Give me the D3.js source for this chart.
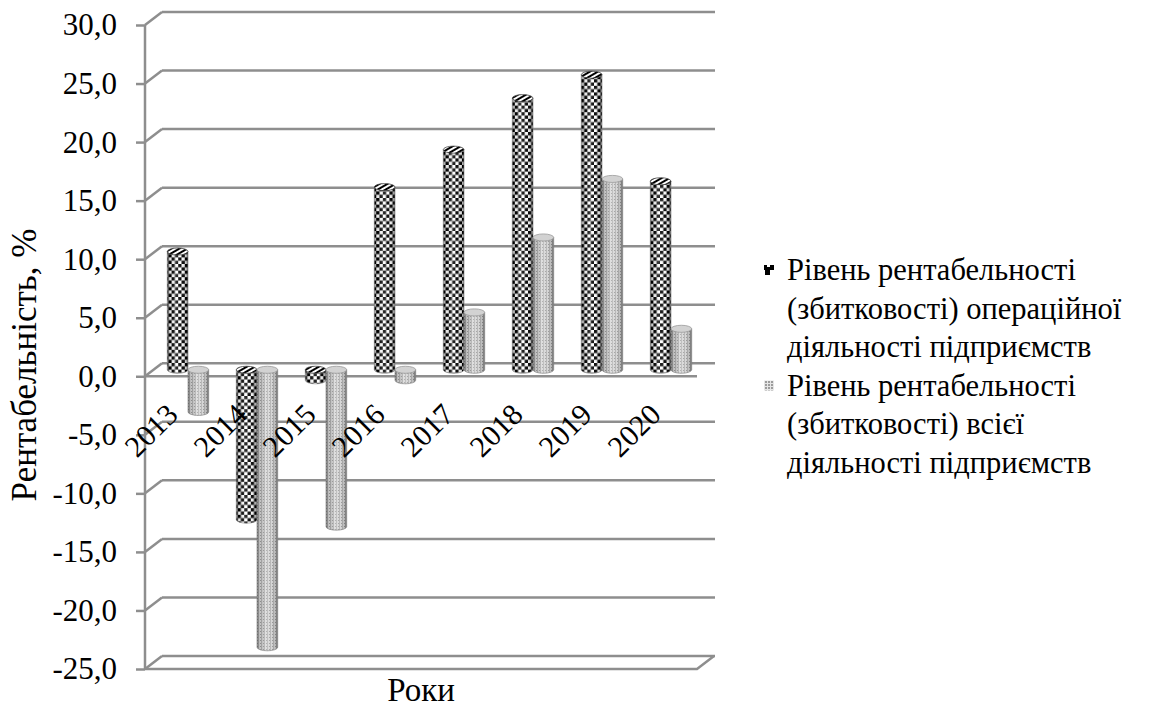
<!DOCTYPE html>
<html>
<head>
<meta charset="utf-8">
<script src="https://cdn.jsdelivr.net/npm/d3@7"></script>
<style>
  html, body { margin: 0; padding: 0; background: #fff; }
</style>
</head>
<body>
<svg id="chart" width="1149" height="707"></svg>
<script>
// Profitability of enterprises by year, %
const years = ["2013", "2014", "2015", "2016", "2017", "2018", "2019", "2020"];
const operating = [10.1, -12.8, -0.9, 15.6, 18.8, 23.2, 25.2, 16.1];
const total = [-3.6, -23.7, -13.4, -0.9, 4.9, 11.3, 16.3, 3.5];
const yTickValues = [-25, -20, -15, -10, -5, 0, 5, 10, 15, 20, 25, 30];
const seriesNames = [
  ["Рівень рентабельності", "(збитковості) операційної", "діяльності підприємств"],
  ["Рівень рентабельності", "(збитковості) всієї", "діяльності підприємств"]
];
const yTitle = "Рентабельність, %";
const xTitle = "Роки";

const SERIF = '"Liberation Serif", "Times New Roman", serif';

const svg = d3.select("#chart");
const defs = svg.append("defs");

// 3D box geometry: front plane and depth offset of the back wall
const DX = 17, DY = -13;
const BAR_F = 0.5;              // bars sit halfway into the depth
const BX = DX * BAR_F, BY = DY * BAR_F;
const GRID = "#8e8e8e";

const y = d3.scaleLinear().domain([-25, 30]).range([669, 25]);
const x = d3.scaleBand().domain(years).range([145, 697]).paddingInner(0.4).paddingOuter(0.2);
const xs = d3.scaleBand().domain(["operating", "total"]).range([0, x.bandwidth()]);

const locale = d3.formatLocale({ decimal: ",", thousands: " ", grouping: [3], currency: ["", ""], minus: "-" });
const fmt = locale.format(".1f");

// ---- fill patterns ----
const checker = defs.append("pattern").attr("id", "checker")
  .attr("patternUnits", "userSpaceOnUse").attr("width", 6.6).attr("height", 6.6);
checker.append("rect").attr("width", 6.6).attr("height", 6.6).attr("fill", "#fff");
checker.append("rect").attr("width", 3.3).attr("height", 3.3).attr("fill", "#000");
checker.append("rect").attr("x", 3.3).attr("y", 3.3).attr("width", 3.3).attr("height", 3.3).attr("fill", "#000");

const stripes = defs.append("pattern").attr("id", "stripes")
  .attr("patternUnits", "userSpaceOnUse").attr("width", 4).attr("height", 4)
  .attr("patternTransform", "rotate(-30)");
stripes.append("rect").attr("width", 4).attr("height", 4).attr("fill", "#fff");
stripes.append("rect").attr("width", 4).attr("height", 2).attr("fill", "#000");

const dots = defs.append("pattern").attr("id", "dots")
  .attr("patternUnits", "userSpaceOnUse").attr("width", 3).attr("height", 3);
dots.append("rect").attr("width", 3).attr("height", 3).attr("fill", "#d2d2d2");
dots.append("rect").attr("width", 1).attr("height", 3).attr("fill", "#adadad");
dots.append("rect").attr("x", 2).attr("y", 1).attr("width", 1).attr("height", 1).attr("fill", "#969696");

const legendChecker = defs.append("pattern").attr("id", "legendChecker")
  .attr("patternUnits", "userSpaceOnUse").attr("width", 10).attr("height", 10);
legendChecker.append("rect").attr("width", 10).attr("height", 10).attr("fill", "#fff");
legendChecker.append("rect").attr("x", 5).attr("width", 5).attr("height", 5).attr("fill", "#000");
legendChecker.append("rect").attr("y", 5).attr("width", 10).attr("height", 5).attr("fill", "#000");
legendChecker.append("rect").attr("x", 7).attr("y", 5).attr("width", 3).attr("height", 2).attr("fill", "#fff");

const legendDots = defs.append("pattern").attr("id", "legendDots")
  .attr("patternUnits", "userSpaceOnUse").attr("width", 3).attr("height", 3);
legendDots.append("rect").attr("width", 3).attr("height", 3).attr("fill", "#e6e6e6");
legendDots.append("rect").attr("width", 2).attr("height", 2).attr("fill", "#9c9c9c");

// cylinder shading
function shade(id, stops) {
  const g = defs.append("linearGradient").attr("id", id)
    .attr("x1", 0).attr("x2", 1).attr("y1", 0).attr("y2", 0);
  stops.forEach(s => g.append("stop").attr("offset", s[0]).attr("stop-color", s[1]).attr("stop-opacity", s[2]));
}
shade("shadeDark", [[0, "#000", 0.45], [0.15, "#000", 0.1], [0.4, "#fff", 0.2], [0.65, "#fff", 0.05], [0.88, "#000", 0.2], [1, "#000", 0.5]]);
shade("shadeLight", [[0, "#000", 0.35], [0.15, "#000", 0.05], [0.4, "#fff", 0.3], [0.7, "#fff", 0.1], [0.9, "#000", 0.15], [1, "#000", 0.4]]);

// ---- walls, floor and gridlines ----
const grid = svg.append("g").attr("fill", "none").attr("stroke", GRID).attr("stroke-width", 2.5);
const [xL, xR] = x.range();

yTickValues.forEach(v => {
  // back wall line
  grid.append("line").attr("x1", xL + DX).attr("x2", xR + DX + 1)
    .attr("y1", y(v) + DY).attr("y2", y(v) + DY);
  // side wall diagonal
  grid.append("line").attr("x1", xL).attr("y1", y(v))
    .attr("x2", xL + DX).attr("y2", y(v) + DY);
});
// floor front edge and right edge
const yMin = y.domain()[0];
grid.append("path").attr("d",
  `M${xL},${y(yMin)} L${xR},${y(yMin)} L${xR + DX},${y(yMin) + DY}`);
// category axis at zero
grid.append("line").attr("x1", xL).attr("x2", xR).attr("y1", y(0)).attr("y2", y(0));

// value axis
const yAxis = d3.axisLeft(y).tickValues(yTickValues).tickFormat(fmt).tickSize(9).tickPadding(19);
const gy = svg.append("g").attr("transform", `translate(${xL},0)`).call(yAxis);
gy.select(".domain").attr("stroke", GRID).attr("stroke-width", 2.5).attr("d", `M0,${y(30)}V${y(yMin)}`);
gy.selectAll(".tick line").attr("stroke", GRID).attr("stroke-width", 2.5);
gy.selectAll(".tick text").attr("fill", "#000")
  .style("font-family", SERIF).style("font-size", "31px");

// ---- cylinders ----
const series = [
  { key: "operating", values: operating, body: "url(#checker)", shade: "url(#shadeDark)", cap: "url(#stripes)", capStroke: "#444" },
  { key: "total", values: total, body: "url(#dots)", shade: "url(#shadeLight)", cap: "#d2d2d2", capStroke: "#9a9a9a" }
];

const bars = svg.append("g");
years.forEach((yr, i) => {
  series.forEach(s => {
    const v = s.values[i];
    const x0 = x(yr) + xs(s.key) + BX;
    const w = xs.bandwidth();
    const x1 = x0 + w;
    const rx = w / 2, ry = w * 0.17;
    const yTop = y(Math.max(v, 0)) + BY;
    const yBot = y(Math.min(v, 0)) + BY;
    const body = `M${x0},${yTop} L${x0},${yBot} A${rx},${ry} 0 0 0 ${x1},${yBot} L${x1},${yTop} Z`;
    const g = bars.append("g");
    g.append("path").attr("d", body).attr("fill", s.body);
    g.append("path").attr("d", body).attr("fill", s.shade);
    g.append("path").attr("d", body).attr("fill", "none").attr("stroke", "#7a7a7a").attr("stroke-width", 0.6);
    g.append("ellipse").attr("cx", x0 + rx).attr("cy", yTop).attr("rx", rx).attr("ry", ry)
      .attr("fill", s.cap).attr("stroke", s.capStroke).attr("stroke-width", 0.8);
  });
});

// ---- category labels ----
const cat = svg.append("g").attr("fill", "#000").attr("text-anchor", "end");
years.forEach(yr => {
  const px = x(yr) + x.bandwidth() / 2;
  const py = y(0) + 40;
  cat.append("text").attr("transform", `translate(${px},${py}) rotate(-45)`)
    .style("font-family", SERIF).style("font-size", "30px").text(yr);
});

// ---- axis titles ----
svg.append("text").attr("transform", `translate(36,365) rotate(-90)`)
  .attr("text-anchor", "middle").style("font-family", SERIF).style("font-size", "35px").text(yTitle);
svg.append("text").attr("x", (xL + xR) / 2).attr("y", 701)
  .attr("text-anchor", "middle").style("font-family", SERIF).style("font-size", "33px").text(xTitle);

// ---- legend ----
const legend = svg.append("g");
const markers = ["url(#legendChecker)", "url(#legendDots)"];
const lineGap = 38.5;
seriesNames.forEach((lines, k) => {
  const base = 280 + k * 3 * lineGap;
  legend.append("rect").attr("x", 764).attr("y", base - 15).attr("width", 10).attr("height", 10)
    .attr("fill", markers[k]);
  lines.forEach((t, j) => {
    legend.append("text").attr("x", 787).attr("y", base + j * lineGap)
      .style("font-family", SERIF).style("font-size", "30.5px").text(t);
  });
});
</script>
</body>
</html>
